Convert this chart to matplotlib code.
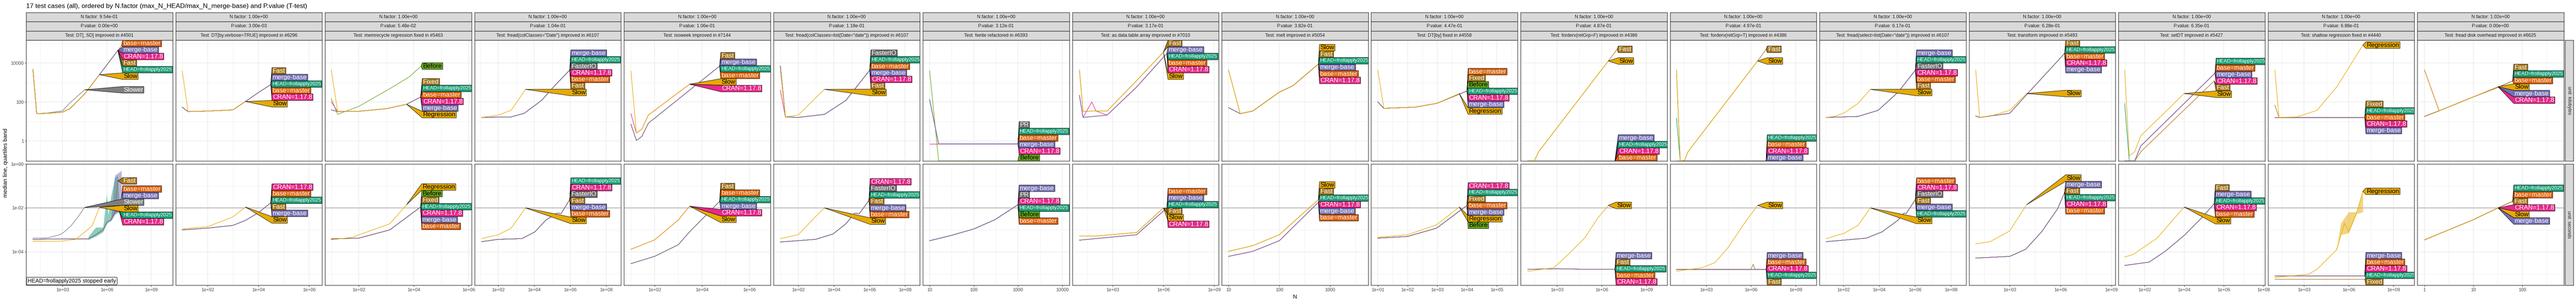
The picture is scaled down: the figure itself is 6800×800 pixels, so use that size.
import matplotlib
matplotlib.use("Agg")
import matplotlib.pyplot as plt
from matplotlib.patches import Polygon
from matplotlib.transforms import IdentityTransform
from matplotlib.ticker import FixedLocator, NullFormatter

plt.rcParams['font.family'] = ['Liberation Sans', 'DejaVu Sans']

H = "HEAD=frollapply2025"
B = "base=master"
M = "merge-base"
C = "CRAN=1.17.8"

title = "17 test cases (all), ordered by N.factor (max_N_HEAD/max_N_merge-base) and P.value (T-test)"

n_factor = ["9.54e-01"] + ["1.00e+00"] * 15 + ["1.02e+00"]
p_value = ["0.00e+00", "3.00e-03", "5.48e-02", "1.04e-01", "1.06e-01", "1.18e-01",
           "3.12e-01", "3.17e-01", "3.82e-01", "4.47e-01", "4.87e-01", "4.97e-01",
           "6.17e-01", "6.28e-01", "6.35e-01", "6.88e-01", "0.00e+00"]
test_names = [
    "DT[,.SD] improved in #4501",
    "DT[by,verbose=TRUE] improved in #6296",
    "memrecycle regression fixed in #5463",
    "fread(colClasses=\"Date\") improved in #6107",
    "isoweek improved in #7144",
    "fread(colClasses=list(Date=\"date\")) improved in #6107",
    "fwrite refactored in #6393",
    "as.data.table.array improved in #7010",
    "melt improved in #5054",
    "DT[by] fixed in #4558",
    "forderv(retGrp=F) improved in #4386",
    "forderv(retGrp=T) improved in #4386",
    "fread(select=list(Date=\"date\")) improved in #6107",
    "transform improved in #5493",
    "setDT improved in #5427",
    "shallow regression fixed in #4440",
    "fread disk overhead improved in #6625",
]

# log10 range of N shown in each column
x_range_log10 = [(0.54, 10.45), (0.739, 6.51), (0.772, 6.10), (0.684, 8.82), (0.704, 6.89),
                 (0.606, 8.83), (0.846, 4.16), (0.617, 9.26), (0.866, 3.75), (0.777, 5.70),
                 (0.557, 10.39), (0.570, 10.40), (0.668, 8.84), (0.600, 9.23), (0.681, 8.07),
                 (0.570, 10.40), (-0.147, 2.85)]
x_tick_labels = [
    ["1e+03", "1e+06", "1e+09"], ["1e+02", "1e+04", "1e+06"], ["1e+02", "1e+04", "1e+06"],
    ["1e+02", "1e+04", "1e+06", "1e+08"], ["1e+02", "1e+04", "1e+06"],
    ["1e+02", "1e+04", "1e+06", "1e+08"], ["10", "100", "1000", "10000"],
    ["1e+03", "1e+06", "1e+09"], ["10", "100", "1000"],
    ["1e+01", "1e+02", "1e+03", "1e+04", "1e+05"], ["1e+03", "1e+06", "1e+09"],
    ["1e+03", "1e+06", "1e+09"], ["1e+02", "1e+04", "1e+06", "1e+08"],
    ["1e+03", "1e+06", "1e+09"], ["1e+02", "1e+04", "1e+06", "1e+08"],
    ["1e+03", "1e+06", "1e+09"], ["1", "10", "100"],
]

kb_ylim = (10 ** -1.03, 10 ** 5.17)
kb_ticks = ["1", "100", "10000"]
sec_ylim = (10 ** -5.52, 1.0)
sec_ticks = ["1e-04", "1e-02", "1e+00"]
seconds_limit = 0.01

# each entry: (series sharing this curve, N, median value); 0 kB sits on the panel floor
t01_kb = [
    ([H, C, "Fast", M], [10, 18, 100, 1000, 3200, 32000, 316000, 5600000], [4700, 25, 26, 30, 45, 260, 2500, 44000]),
    ([B], [10, 18, 100, 1000, 3200, 32000, 316000, 5600000, 10000000], [4700, 25, 26, 30, 45, 260, 2500, 44000, 78000]),
    (["Slower"], [10, 18, 100, 1000, 3200, 32000], [4700, 25, 27, 35, 90, 420]),
    (["Slow"], [10, 18, 100, 1000, 3200, 32000, 316000], [4700, 25, 26, 30, 45, 260, 2500]),
]
t01_sec = [
    ([H, C], [10, 1000, 56000, 180000, 560000, 1000000, 1900000, 3500000, 7000000],
     [3.7e-4, 3.9e-4, 3.9e-4, 6.0e-4, 1.0e-3, 2.2e-3, 2.9e-3, 6.5e-3, 7.0e-3]),
    (["Fast"], [10, 1000, 56000, 180000, 560000, 1000000, 1900000, 3500000, 5600000],
     [3.7e-4, 3.9e-4, 3.9e-4, 6.0e-4, 1.0e-3, 2.2e-3, 2.9e-3, 6.5e-3, 0.17]),
    ([B, M], [10, 1000, 56000, 180000, 560000, 1000000, 1900000, 3500000, 10000000],
     [3.7e-4, 3.9e-4, 3.9e-4, 6.0e-4, 1.0e-3, 2.2e-3, 2.9e-3, 6.5e-3, 0.03]),
    (["Slower"], [10, 100, 630, 1000, 3700, 10000, 31000], [4.2e-4, 4.3e-4, 6.0e-4, 7.0e-4, 1.5e-3, 3.5e-3, 1.05e-2]),
    (["Slow"], [10, 1000, 8000, 32000, 100000, 316000], [3.0e-4, 3.1e-4, 3.7e-4, 8.0e-4, 1.5e-3, 1.05e-2]),
]
t02_kb = [
    ([M, H, B, C, "Fast"], [10, 17, 100, 1000, 3100, 10000, 31000], [54, 32, 34, 39, 105, 300, 780]),
    (["Slow"], [10, 17, 100, 1000, 3100], [3900, 32, 34, 39, 105]),
]
t02_sec = [
    ([M, H, B, C, "Fast"], [10, 100, 1000, 3100, 10000, 31000], [1.0e-3, 1.2e-3, 1.6e-3, 2.7e-3, 6.0e-3, 1.7e-2]),
    (["Slow"], [10, 100, 1000, 3100], [1.1e-3, 1.4e-3, 3.9e-3, 1.1e-2]),
]
t03_kb = [
    (["Before"], [10, 17, 100, 1350, 6800, 18600], [145, 23, 59, 480, 1900, 6900]),
    ([M, H, B, "Fixed"], [10, 17, 100, 1000, 5500, 17800], [39, 32, 33, 45, 76, 178]),
    ([C], [10, 17, 100, 1000, 5500, 17800], [100, 32, 33, 45, 76, 178]),
    (["Regression"], [10, 17, 100, 1000, 5500], [4300, 32, 33, 45, 76]),
]
t03_sec = [
    ([M, C, H, B, "Fixed", "Before"], [10, 100, 1350, 4700, 17800], [3.9e-4, 4.2e-4, 1.0e-3, 3.2e-3, 1.1e-2]),
    (["Regression"], [10, 58, 1350, 5500], [3.5e-4, 4.6e-4, 1.9e-3, 1.4e-2]),
]
t04_kb = [
    ([M, H, "FasterIO", C, B, "Fast"], [12, 525, 2800, 26000, 138000, 950000], [16, 17, 26, 120, 680, 4300]),
    (["Slow"], [12, 100, 525, 3300], [16, 21, 37, 440]),
]
t04_sec = [
    ([M, H, "FasterIO", C, B, "Fast"], [12, 100, 2100, 11000, 45000, 186000, 316000, 950000],
     [2.9e-4, 3.7e-4, 4.0e-4, 8.1e-4, 2.8e-3, 5.8e-3, 5.5e-3, 2.4e-2]),
    (["Slow"], [12, 100, 525, 3300], [4.0e-4, 6.0e-4, 1.2e-3, 1.0e-2]),
]
t05_kb = [
    ([M, H, B, "Fast"], [10, 17, 29, 54, 56000], [7.1, 1.05, 1.7, 8, 6900]),
    ([C], [10, 17, 29, 54, 3000], [25, 2.5, 4.0, 21, 810]),
    (["Slow"], [10, 17, 29, 54, 3000], [3900, 2.5, 4.0, 21, 810]),
]
t05_sec = [
    ([M, H, B, "Fast"], [10, 100, 1000, 3000, 56000], [2.9e-5, 6.2e-5, 2.1e-4, 8.1e-4, 2.0e-2]),
    ([C, "Slow"], [10, 100, 1000, 3000], [1.3e-4, 3.5e-4, 2.8e-3, 1.2e-2]),
]
t06_kb = [
    ([M, H, "FasterIO", B, "Fast"], [10, 19, 100, 3000, 48000, 1050000], [6900, 17, 16, 23, 120, 4300]),
    ([C], [10, 19, 100, 3000, 48000, 1050000], [400, 17, 16, 23, 120, 4300]),
    (["Slow"], [10, 19, 100, 1000, 3000], [4300, 17, 21, 170, 440]),
]
t06_sec = [
    ([M, H, "FasterIO", C, B, "Fast"], [10, 950, 9100, 48000, 150000, 270000, 950000],
     [2.8e-4, 3.7e-4, 6.5e-4, 1.9e-3, 5.8e-3, 5.5e-3, 2.2e-2]),
    (["Slow"], [10, 100, 1000, 3000], [4.0e-4, 6.0e-4, 4.2e-3, 1.0e-2]),
]
t07_kb = [
    (["Before"], [10, 16, 100, 1000], [3900, 0, 0, 0]),
    ([C], [10, 16, 100, 1000], [0.7, 0.7, 0.7, 0.7]),
    ([M, H, B, "PR"], [10, 16, 100, 1000], [130, 0.7, 0.7, 0.7]),
]
t07_sec = [
    ([M, "PR", C, H, "Before", B], [10, 30, 100, 300, 1000], [3.2e-4, 5.5e-4, 1.1e-3, 2.9e-3, 1.4e-2]),
]
t08_kb = [
    ([C], [11, 18, 59, 105, 470, 26000, 1600000], [215, 16, 100, 34, 21, 580, 31000]),
    ([M, H, B], [11, 18, 470, 26000, 1600000], [215, 16, 21, 580, 31000]),
    (["Fast", "Slow"], [11, 18, 59, 470, 26000, 1000000], [4300, 32, 34, 34, 1230, 36000]),
]
t08_sec = [
    ([M, H, B, C], [11, 100, 26000, 1600000], [3.4e-4, 4.0e-4, 6.0e-4, 1.0e-2]),
    (["Fast", "Slow"], [11, 100, 26000, 1000000], [5.2e-4, 5.2e-4, 7.6e-4, 1.0e-2]),
]
t09_kb = [
    ([H, M, B, C], [10, 17, 30, 100, 186, 590], [51, 25, 34, 316, 680, 8800]),
    (["Slow", "Fast"], [10, 17, 30, 100, 186, 590], [4300, 25, 34, 316, 680, 8800]),
]
t09_sec = [
    ([H, C, M, B], [10, 30, 100, 590], [6.2e-5, 1.05e-4, 3.2e-4, 1.8e-2]),
    (["Slow", "Fast"], [10, 30, 100, 590], [1.05e-4, 1.9e-4, 6.0e-4, 2.4e-2]),
]
t10_kb = [
    ([B, "Fixed", "Before", H, C, M], [10, 16, 180, 950, 10000], [100, 47, 54, 84, 365]),
    (["Regression"], [10, 16, 180, 950, 5500], [4300, 47, 54, 84, 270]),
]
t10_sec = [
    ([C, H, "Fixed", B, M, "Before"], [10, 100, 950, 10000], [4.2e-4, 5.0e-4, 1.2e-3, 1.3e-2]),
    (["Regression"], [10, 100, 950, 5500], [4.6e-4, 6.0e-4, 1.7e-3, 1.1e-2]),
]
t11_kb = [
    ([M, H, C, B], [11, 7800000], [0, 0]),
    (["Fast"], [11, 30, 59, 2800000, 11000000], [0, 0, 0.28, 12600, 50000]),
    (["Slow"], [11, 30, 59, 2800000], [0, 0, 0.28, 12600]),
]
t11_sec = [
    ([M, "Fast", H, B, C], [11, 1000, 100000, 7800000], [1.6e-5, 1.7e-5, 1.6e-5, 1.6e-5]),
    (["Slow"], [11, 630, 9300, 72000, 520000, 2800000], [1.3e-5, 1.9e-5, 1.05e-4, 4.2e-4, 3.3e-3, 1.3e-2]),
]
t12_kb = [
    ([B, C, M], [10, 10500000], [0, 0]),
    ([H], [10, 18, 10500000], [15, 0, 0]),
    (["Fast"], [10, 18, 35, 60, 2800000, 10500000], [4300, 0, 0.1, 0.28, 12600, 50000]),
    (["Slow"], [10, 18, 35, 60, 2800000], [4300, 0, 0.1, 0.28, 12600]),
]
t12_sec = [
    ([M, B, C, H], [10, 10500000], [1.6e-5, 1.6e-5]),
    (["Fast"], [10, 1000000, 1400000, 1900000, 10500000], [1.6e-5, 1.6e-5, 2.7e-5, 1.6e-5, 1.6e-5]),
    (["Slow"], [10, 520, 3800, 28000, 420000, 2800000], [1.3e-5, 1.9e-5, 3.2e-5, 1.5e-4, 2.3e-3, 1.3e-2]),
]
t13_kb = [
    ([M, H, "FasterIO", C, B, "Fast"], [11, 660, 8700, 115000, 1050000], [16, 18, 37, 320, 4300]),
    (["Slow"], [11, 31, 110, 660, 3200], [16, 18, 27, 84, 440]),
]
t13_sec = [
    ([M, H, "FasterIO", C, B, "Fast"], [11, 1900, 14500, 115000, 240000, 320000, 1050000],
     [2.9e-4, 4.2e-4, 8.1e-4, 2.8e-3, 5.8e-3, 5.5e-3, 2.4e-2]),
    (["Slow"], [11, 110, 660, 3200], [4.0e-4, 7.0e-4, 1.6e-3, 1.0e-2]),
]
t14_kb = [
    ([H, B, C, M, "Fast"], [10, 17, 1000, 10000, 1740000], [19, 16, 26, 235, 31000]),
    (["Slow"], [10, 17, 115, 1000, 10000], [4300, 16, 21, 37, 270]),
]
t14_sec = [
    ([M, "Fast", H, C, B], [10, 1000, 8700, 76000, 680000, 1740000], [5.2e-5, 6.2e-5, 1.3e-4, 8.1e-4, 9.3e-3, 5.1e-2]),
    (["Slow"], [10, 70, 1000, 10000], [2.3e-4, 2.9e-4, 8.9e-4, 1.4e-2]),
]
t15_kb = [
    ([B, M, C], [10, 32, 64, 360000], [0, 0, 0.54, 3000]),
    ([H], [10, 17, 32, 64, 360000], [83, 0, 0, 0.54, 3000]),
    (["Fast"], [10, 32, 70, 330000], [0, 0, 0.3, 1200]),
    (["Slow"], [10, 17, 32, 64, 10000], [4300, 0.17, 0.28, 1.8, 270]),
]
t15_sec = [
    (["Fast", M, H, C, B], [10, 170, 1100, 11000, 71000, 330000], [2.4e-5, 3.4e-5, 1.05e-4, 6.0e-4, 3.3e-3, 1.55e-2]),
    (["Slow"], [10, 27, 430, 10000], [5.8e-5, 7.6e-5, 4.2e-4, 1.1e-2]),
]
t16_kb = [
    ([H, B, C, M], [11, 21, 12000000], [16, 16, 16]),
    (["Fixed"], [11, 21, 12000000], [68, 16, 16]),
    (["Regression"], [11, 21, 330, 7400, 155000, 8900000], [4300, 16, 17, 37, 580, 82000]),
]
t16_sec = [
    ([M, B, C, H], [11, 12000000], [8e-6, 8e-6]),
    (["Fixed"], [11, 12000000], [5.8e-6, 5.8e-6]),
    (["Regression"], [11, 2000, 7400, 155000, 520000, 1000000, 3400000, 8900000],
     [6.8e-6, 9.5e-6, 1.6e-5, 1.26e-4, 2.0e-3, 8.2e-4, 6.0e-3, 5.7e-2]),
]
t17_kb = [
    (["Fast", H, B], [1, 2, 10, 32, 64], [18, 35, 180, 560, 1200]),
    (["Slow", M, C], [1, 2, 10, 32], [4300, 35, 180, 600]),
]
t17_sec = [
    (["Fast", H, B], [1, 10, 32, 64], [3.5e-4, 2.9e-3, 1.0e-2, 2.0e-2]),
    (["Slow", M, C], [1, 10, 32], [3.5e-4, 2.9e-3, 1.0e-2]),
]

kb_data = [t01_kb, t02_kb, t03_kb, t04_kb, t05_kb, t06_kb, t07_kb, t08_kb, t09_kb,
           t10_kb, t11_kb, t12_kb, t13_kb, t14_kb, t15_kb, t16_kb, t17_kb]
sec_data = [t01_sec, t02_sec, t03_sec, t04_sec, t05_sec, t06_sec, t07_sec, t08_sec, t09_sec,
            t10_sec, t11_sec, t12_sec, t13_sec, t14_sec, t15_sec, t16_sec, t17_sec]

# quartile bands that are wide enough to see: (test index, series, N, q25, q75), seconds row
sec_bands = [
    (0, H, [56000, 180000, 560000, 1000000, 1260000, 1900000, 3500000, 5600000, 7000000],
     [3.5e-4, 5.0e-4, 8.0e-4, 1.8e-3, 2.2e-3, 2.5e-3, 5.0e-3, 6.0e-3, 6.0e-3],
     [4.9e-4, 1.3e-3, 1.3e-3, 4.2e-2, 4.9e-3, 3.2e-2, 0.23, 0.3, 1.4e-2]),
    (0, M, [1900000, 3500000, 10000000], [2.5e-3, 5.0e-3, 1.0e-2], [3.0e-3, 0.3, 0.5]),
    (15, "Regression", [155000, 295000, 1000000, 3400000, 8900000],
     [1.1e-4, 6.0e-4, 7.0e-4, 5.3e-3, 6.5e-3], [1.4e-4, 2.0e-3, 6.5e-3, 6.5e-3, 6.2e-2]),
]

# label stacking order, top to bottom
kb_order = [
    [B, M, C, "Fast", H, "Slow", "Slower"],
    ["Fast", M, H, B, C, "Slow"],
    ["Before", "Fixed", H, B, C, M, "Regression"],
    [M, H, "FasterIO", C, B, "Fast", "Slow"],
    ["Fast", M, H, B, "Slow", C],
    ["FasterIO", H, B, M, C, "Fast", "Slow"],
    ["PR", H, B, M, C, "Before"],
    ["Fast", M, H, B, C, "Slow"],
    ["Slow", "Fast", H, M, B, C],
    [B, "Fixed", "Before", H, C, M, "Regression"],
    ["Fast", "Slow", M, H, C, B],
    ["Fast", "Slow", H, B, C, M],
    [M, H, "FasterIO", C, B, "Fast", "Slow"],
    ["Fast", H, B, C, M, "Slow"],
    [H, B, M, C, "Fast", "Slow"],
    ["Regression", "Fixed", H, B, C, M],
    ["Fast", H, B, "Slow", M, C],
]
sec_order = [
    ["Fast", B, M, "Slower", "Slow", H, C],
    [C, B, H, "Fast", M, "Slow"],
    ["Regression", "Before", "Fixed", H, C, M, B],
    [H, C, "FasterIO", "Fast", M, B, "Slow"],
    ["Fast", B, H, M, C, "Slow"],
    [C, "FasterIO", H, "Fast", M, B, "Slow"],
    [M, "PR", C, H, "Before", B],
    [B, M, H, "Fast", "Slow", C],
    ["Slow", "Fast", H, C, M, B],
    [C, H, "Fixed", B, M, "Regression", "Before"],
    ["Slow", M, "Fast", H, B, C],
    ["Slow", M, B, C, H, "Fast"],
    [B, C, "FasterIO", "Fast", M, H, "Slow"],
    ["Slow", M, "Fast", H, C, B],
    ["Fast", M, H, C, B, "Slow"],
    ["Regression", M, B, C, H, "Fixed"],
    [H, B, "Fast", C, "Slow", M],
]

colors = {H: "#1B9E77", B: "#D95F02", M: "#7570B3", C: "#E7298A", "Before": "#66A61E",
          "Regression": "#E6AB02", "Slow": "#E6AB02", "Fixed": "#A6761D", "Fast": "#A6761D",
          "Slower": "#7F7F7F", "FasterIO": "#6E6E6E", "PR": "#6E6E6E"}
dark_text = {"Slow", "Regression", "Before"}
draw_rank = {"Before": 0, H: 1, B: 2, C: 3, "Fixed": 4, "Fast": 4, "FasterIO": 4, "PR": 4,
             M: 5, "Slower": 6, "Regression": 7, "Slow": 7}

W, HT = 6800, 800
fig = plt.figure(figsize=(W / 100, HT / 100), dpi=100)
renderer = fig.canvas.get_renderer()
BORDER = "#333333"


def px_axes(x0, y0, w, h):
    return fig.add_axes([x0 / W, 1 - (y0 + h) / HT, w / W, h / HT])


def strip(x0, y0, w, h, txt, rot=0):
    s = px_axes(x0, y0, w, h)
    s.set_facecolor("#D9D9D9")
    s.set_xticks([])
    s.set_yticks([])
    for sp in s.spines.values():
        sp.set_color(BORDER)
        sp.set_linewidth(1.0)
    s.text(0.5, 0.5, txt, ha="center", va="center", rotation=rot, fontsize=8.8,
           color="#1A1A1A", transform=s.transAxes)


def log_minor(vals):
    out = []
    for a, b in zip(vals[:-1], vals[1:]):
        out.append((a * b) ** 0.5)
    out = [vals[0] ** 2 / out[0]] + out + [vals[-1] ** 2 / out[-1]] if out else out
    return out


def pava(v):
    blocks = []
    for x in v:
        blocks.append([x, 1])
        while len(blocks) > 1 and blocks[-2][0] / blocks[-2][1] > blocks[-1][0] / blocks[-1][1]:
            s, c = blocks.pop()
            blocks[-1][0] += s
            blocks[-1][1] += c
    out = []
    for s, c in blocks:
        out += [s / c] * c
    return out


def put_labels(ax, groups, order):
    ylo = ax.get_ylim()[0]
    ends = {}
    for names, xs, ys in groups:
        ye = ys[-1] if ys[-1] > 0 else ylo
        for nm in names:
            ends[nm] = ax.transData.transform((xs[-1], ye))
    bb = ax.bbox
    xl = max(p[0] for p in ends.values()) + 3
    h = 17.3
    want = [bb.y1 - ends[nm][1] for nm in order]
    q = pava([w - k * h for k, w in enumerate(want)])
    pos = [v + k * h for k, v in enumerate(q)]
    pos[0] = max(pos[0], h / 2)
    for k in range(1, len(pos)):
        pos[k] = max(pos[k], pos[k - 1] + h)
    pos[-1] = min(pos[-1], bb.height - h / 2)
    for k in range(len(pos) - 2, -1, -1):
        pos[k] = min(pos[k], pos[k + 1] - h)
    for nm, p in zip(order, pos):
        yc = bb.y1 - p
        t = ax.text(xl + 2, yc, nm, transform=IdentityTransform(), ha="left", va="center",
                    fontsize=9.6 if nm == H else 12.2,
                    color="black" if nm in dark_text else "white", zorder=7)
        wd = t.get_window_extent(renderer).width
        t.set_clip_on(True)
        t.set_clip_box(ax.bbox)
        xr = xl + wd + 4
        poly = Polygon([tuple(ends[nm]), (xl, yc + h / 2), (xr, yc + h / 2), (xr, yc - h / 2),
                        (xl, yc - h / 2)], closed=True, transform=IdentityTransform(),
                       facecolor=colors[nm], edgecolor="black", linewidth=0.7, zorder=6)
        ax.add_patch(poly)


fig.text(69 / W, 1 - 16 / HT, title, ha="left", va="center", fontsize=12.5, color="black")

rows = [(106, 319, kb_ylim, kb_ticks, kb_data, kb_order, "unit: kilobytes"),
        (433, 320, sec_ylim, sec_ticks, sec_data, sec_order, "unit: seconds")]

for i in range(17):
    left = 69 + 394.5 * i
    pw = 386.5
    strip(left, 33, pw, 24.3, f"N.factor: {n_factor[i]}")
    strip(left, 57.3, pw, 24.3, f"P.value: {p_value[i]}")
    strip(left, 81.6, pw, 24.4, f"Test: {test_names[i]}")
    xt = [float(s) for s in x_tick_labels[i]]
    for r, (top, hgt, ylim, yt_lab, data, orders, unit) in enumerate(rows):
        ax = px_axes(left, top, pw, hgt)
        ax.set_xscale("log")
        ax.set_yscale("log")
        lo, hi = x_range_log10[i]
        ax.set_xlim(10 ** lo, 10 ** hi)
        ax.set_ylim(*ylim)
        yt = [float(s) for s in yt_lab]
        ax.xaxis.set_major_locator(FixedLocator(xt))
        ax.xaxis.set_minor_locator(FixedLocator(log_minor(xt)))
        ax.yaxis.set_major_locator(FixedLocator(yt))
        ax.yaxis.set_minor_locator(FixedLocator(log_minor(yt)))
        ax.xaxis.set_minor_formatter(NullFormatter())
        ax.yaxis.set_minor_formatter(NullFormatter())
        ax.grid(which="major", color="#EBEBEB", linewidth=1.1)
        ax.grid(which="minor", color="#EBEBEB", linewidth=0.55)
        ax.set_axisbelow(True)
        for sp in ax.spines.values():
            sp.set_color(BORDER)
            sp.set_linewidth(1.0)
            sp.set_zorder(8)
        ax.tick_params(which="minor", length=0)
        ax.tick_params(which="major", length=2.75, width=0.8, color=BORDER,
                       labelsize=8.8, labelcolor="#4D4D4D", pad=2)
        if r == 1:
            ax.set_xticklabels(x_tick_labels[i])
            ax.axhline(seconds_limit, color="#ABABAB", linewidth=1.3, zorder=1.5)
            for bi, nm, bx, blo, bhi in sec_bands:
                if bi == i:
                    ax.fill_between(bx, blo, bhi, color=colors[nm], alpha=0.5,
                                    linewidth=0, zorder=1.8)
        else:
            ax.tick_params(axis="x", which="major", length=0, labelbottom=False)
        if i == 0:
            ax.set_yticklabels(yt_lab)
        else:
            ax.tick_params(axis="y", which="major", length=0, labelleft=False)

        groups = data[i]
        items = []
        for names, xs, ys in groups:
            yy = [v if v > 0 else ylim[0] for v in ys]
            for nm in names:
                items.append((draw_rank[nm], nm, xs, yy))
        items.sort(key=lambda z: z[0])
        for k, (rk, nm, xs, yy) in enumerate(items):
            ax.plot(xs, yy, color=colors[nm], linewidth=1.0, zorder=2 + 0.01 * k,
                    solid_joinstyle="round")
        put_labels(ax, groups, orders[i])

        if i == 0 and r == 1:
            ax.annotate("HEAD=frollapply2025 stopped early", xy=(0, 0), xycoords="axes fraction",
                        xytext=(4, 4), textcoords="offset pixels", ha="left", va="bottom",
                        fontsize=10.5, color="black", zorder=9,
                        bbox=dict(boxstyle="round,pad=0.2", fc="white", ec="black", lw=0.8))
        if i == 16:
            strip(left + pw + 3, top, 22, hgt, unit, rot=-90)

fig.text(15 / W, 1 - 430 / HT, "median line, quartiles band", rotation=90, ha="center",
         va="center", fontsize=11)
fig.text(3418 / W, 1 - 784 / HT, "N", ha="center", va="center", fontsize=11)

fig.savefig("out.png", dpi=100)
